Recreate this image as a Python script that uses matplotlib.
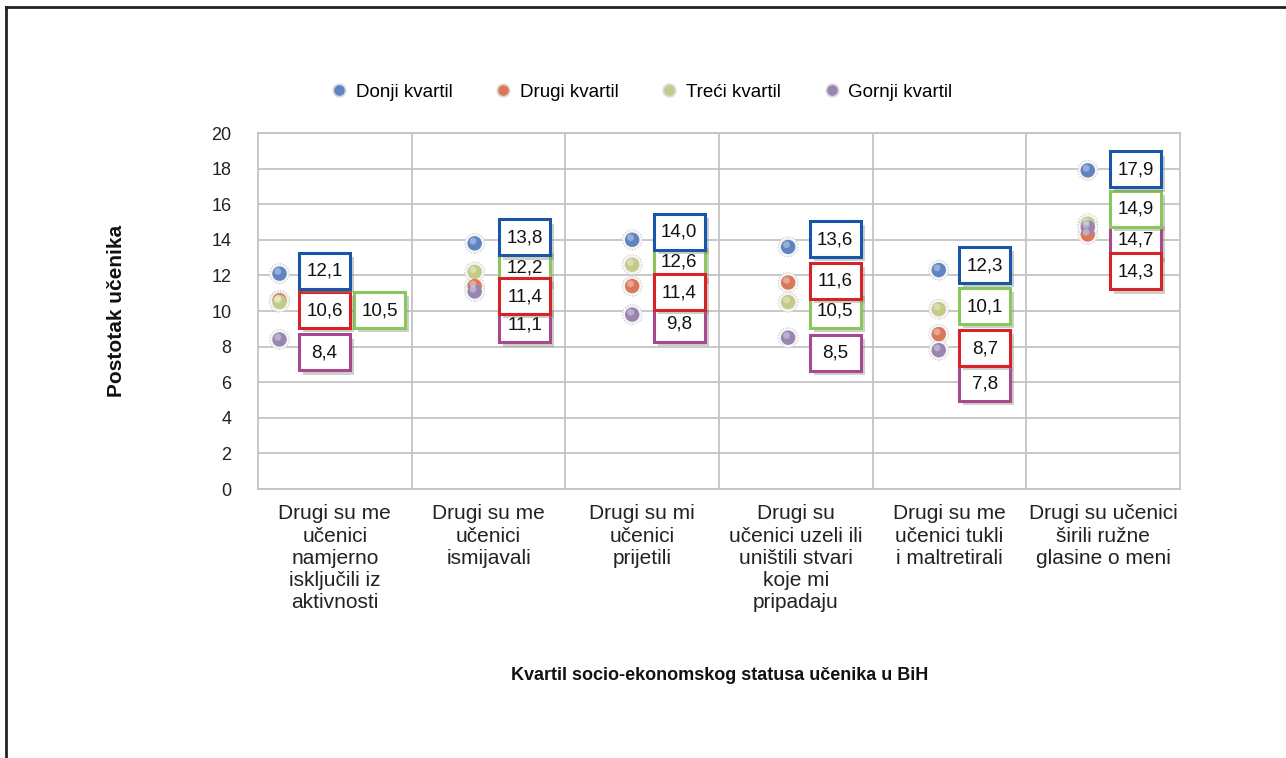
import numpy as np
import matplotlib.pyplot as plt
import matplotlib.patheffects as pe
from matplotlib.lines import Line2D
from matplotlib.text import Text
from matplotlib.offsetbox import AnnotationBbox, DrawingArea
from matplotlib.transforms import offset_copy

plt.rcParams['font.family'] = ['Liberation Sans', 'DejaVu Sans']

# data
categories = ['Drugi su me\nučenici\nnamjerno\nisključili iz\naktivnosti',
              'Drugi su me\nučenici\nismijavali',
              'Drugi su mi\nučenici\nprijetili',
              'Drugi su\nučenici uzeli ili\nuništili stvari\nkoje mi\npripadaju',
              'Drugi su me\nučenici tukli\ni maltretirali',
              'Drugi su učenici\nširili ružne\nglasine o meni']
series = ['Donji kvartil', 'Drugi kvartil', 'Treći kvartil', 'Gornji kvartil']
donji = [12.1, 13.8, 14.0, 13.6, 12.3, 17.9]
drugi = [10.6, 11.4, 11.4, 11.6, 8.7, 14.3]
treci = [10.5, 12.2, 12.6, 10.5, 10.1, 14.9]
gornji = [8.4, 11.1, 9.8, 8.5, 7.8, 14.7]
values = [donji, drugi, treci, gornji]

# styles
dot_colors = ['#5f84bf', '#d9795a', '#c6ca88', '#9886b0']
box_colors = ['#1a56a8', '#d8222a', '#8bc65c', '#a8498f']

# positions (px) of the label boxes relative to their marker
marker_shift = [-0.36, -0.09, -0.065, -0.05, -0.07, -0.10]
box_dx = [45, 50, 47, 47, 46, 48]
box_dy = [[3, 6, 8, 8, 5, 1],
          [-10, -10, -6, 2, -14, -37],
          [-8, 5, 3, -8, 3, 15],
          [-13, -33, -9, -15, -33, -12]]
extra_dx = {(2, 0): 55}   # treći kvartil, first group: second column

W, H = 1286, 758
PX = 0.72  # points per pixel at dpi 100

fig = plt.figure(figsize=(W / 100, H / 100), dpi=100)
ax = fig.add_axes([258 / W, 1 - 489 / H, 922 / W, 356 / H])

x = np.arange(len(categories))
xm = x + np.array(marker_shift)

ax.set_xlim(-0.5, len(categories) - 0.5)
ax.set_ylim(0, 20)
ax.set_yticks(np.arange(0, 21, 2))
ax.set_xticks(x)
ax.set_xticklabels(categories, fontsize=15, linespacing=1.22, color='#222222')
ax.set_xticks(x[:-1] + 0.5, minor=True)
ax.tick_params(axis='both', which='both', length=0)
ax.tick_params(axis='x', pad=11)
ax.tick_params(axis='y', pad=19, labelsize=13, labelcolor='#222222')
ax.grid(axis='y', color='#c4c4c4', lw=1.3)
ax.grid(axis='x', which='minor', color='#c4c4c4', lw=1.3)
ax.set_axisbelow(True)
for s in ax.spines.values():
    s.set_color('#c4c4c4')
    s.set_linewidth(1.3)

# sphere-like markers
hl = offset_copy(ax.transData, fig=fig, x=-1.2, y=1.6, units='points')
for k in range(4):
    ax.scatter(xm, values[k], s=205, c='#f5f5f5', edgecolors='#c9c9c9',
               linewidths=0.8, linestyle=':', zorder=3)
    ax.scatter(xm, values[k], s=108, c=dot_colors[k], edgecolors='none', zorder=4)
    ax.scatter(xm, values[k], s=24, c='white', alpha=0.35, edgecolors='none',
               zorder=5, transform=hl)

# boxed data labels
bw, bh = 51 * PX, 36 * PX
for k in [3, 2, 1, 0]:
    for i, v in enumerate(values[k]):
        da = DrawingArea(bw, bh)
        da.add_artist(Text(bw / 2, bh / 2 - 0.5, f'{v:.1f}'.replace('.', ','),
                           ha='center', va='center', fontsize=13.5, color='#111111'))
        dx = box_dx[i] + extra_dx.get((k, i), 0)
        ab = AnnotationBbox(da, (xm[i], v), xybox=(dx * PX, box_dy[k][i] * PX),
                            xycoords='data', boxcoords='offset points', pad=0,
                            frameon=True, box_alignment=(0.5, 0.5),
                            bboxprops=dict(facecolor='white', edgecolor=box_colors[k],
                                           linewidth=2.2))
        ab.patch.set_path_effects([pe.SimplePatchShadow(offset=(3, -3),
                                                        shadow_rgbFace='#7f8c74',
                                                        alpha=0.4),
                                   pe.Normal()])
        ab.set_zorder(6)
        ax.add_artist(ab)

# legend
handles = [Line2D([], [], ls='', marker='o', markersize=9, markerfacecolor=c,
                  markeredgecolor='#dcdcdc', markeredgewidth=1.3) for c in dot_colors]
fig.legend(handles, series, loc='center', bbox_to_anchor=(641 / W, 1 - 92 / H),
           ncol=4, frameon=False, fontsize=13.5, handlelength=1.0,
           handletextpad=0.4, columnspacing=2.2)

fig.text(117 / W, 1 - 311 / H, 'Postotak učenika', rotation=90, ha='center',
         va='center', fontsize=15, fontweight='bold', color='#111111')
fig.text(720 / W, 1 - 675 / H, 'Kvartil socio-ekonomskog statusa učenika u BiH',
         ha='center', va='center', fontsize=13, fontweight='bold', color='#111111')

# outer frame (top and left only)
fig.add_artist(Line2D([6 / W, 1], [1 - 7 / H, 1 - 7 / H], transform=fig.transFigure,
                      color='#222222', lw=2))
fig.add_artist(Line2D([6 / W, 6 / W], [0, 1 - 7 / H], transform=fig.transFigure,
                      color='#222222', lw=2))

fig.savefig('out.png', dpi=100)
